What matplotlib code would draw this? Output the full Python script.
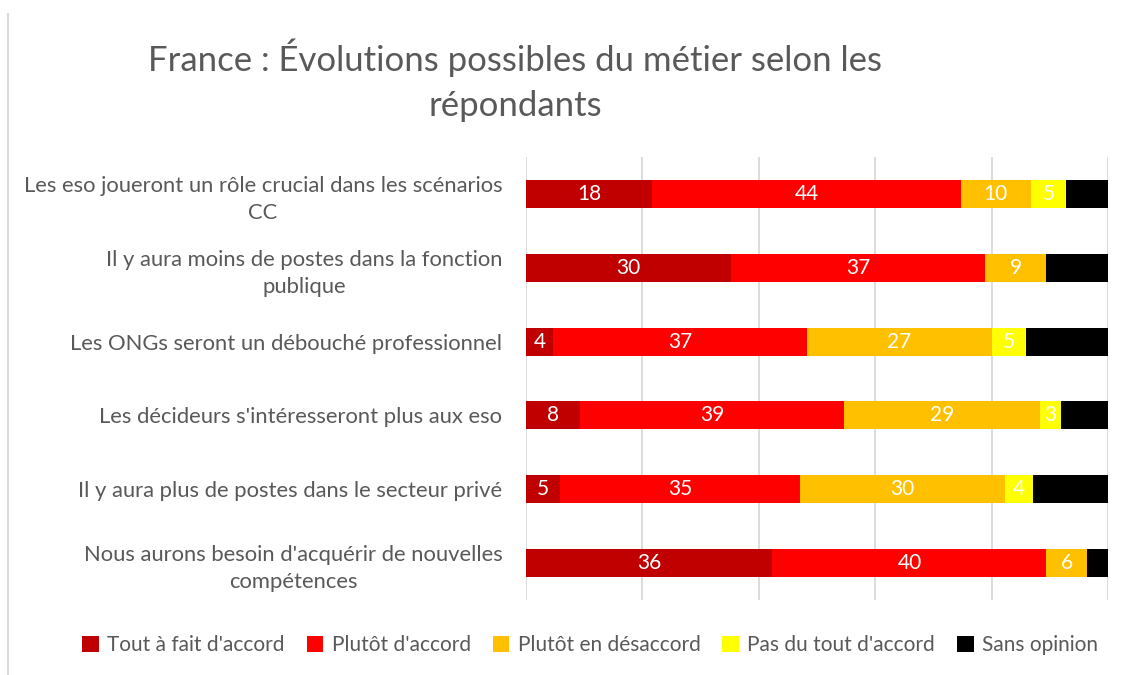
import numpy as np
import matplotlib.pyplot as plt
from matplotlib.lines import Line2D

plt.rcParams['font.family'] = ['Lato', 'DejaVu Sans']

categories = [
    "Les eso joueront un rôle crucial dans les scénarios\nCC",
    "Il y aura moins de postes dans la fonction\npublique",
    "Les ONGs seront un débouché professionnel",
    "Les décideurs s'intéresseront plus aux eso",
    "Il y aura plus de postes dans le secteur privé",
    "Nous aurons besoin d'acquérir de nouvelles\ncompétences",
]
series = ["Tout à fait d'accord", "Plutôt d'accord", "Plutôt en désaccord",
          "Pas du tout d'accord", "Sans opinion"]
tout_a_fait = [18, 30, 4, 8, 5, 36]
plutot_accord = [44, 37, 37, 39, 35, 40]
plutot_desaccord = [10, 9, 27, 29, 30, 6]
pas_du_tout = [5, 0, 5, 3, 4, 0]
sans_opinion = [6, 9, 12, 7, 11, 3]

colors = ["#c00000", "#ff0000", "#ffc000", "#ffff00", "#000000"]
text_col = "#595959"

counts = np.array([tout_a_fait, plutot_accord, plutot_desaccord,
                   pas_du_tout, sans_opinion], dtype=float)
shares = counts / counts.sum(axis=0) * 100

fig = plt.figure(figsize=(11.46, 6.75), dpi=100)
ax = fig.add_axes([526 / 1146, 1 - 600 / 675, 582 / 1146, 443 / 675])

y = np.arange(len(categories))
left = np.zeros(len(categories))
for i, name in enumerate(series):
    bars = ax.barh(y, shares[i], left=left, height=0.38, color=colors[i],
                   label=name, zorder=3)
    for j, b in enumerate(bars):
        if counts[i, j] > 0 and i < 4:
            ax.text(left[j] + shares[i, j] / 2, y[j], f"{int(counts[i, j])}",
                    ha='center', va='center', color='white', fontsize=15,
                    zorder=4)
    left += shares[i]

ax.set_xlim(0, 100)
ax.set_ylim(len(categories) - 0.5, -0.5)
ax.set_xticks(np.arange(0, 101, 20))
ax.xaxis.grid(True, color='#d9d9d9', linewidth=1.3, zorder=0)
ax.tick_params(axis='x', length=0, labelbottom=False)
ax.tick_params(axis='y', length=0, pad=17)
ax.set_yticks(y)
ax.set_yticklabels(categories, fontsize=15.8, color=text_col,
                   multialignment='center', linespacing=1.45)
for s in ax.spines.values():
    s.set_visible(False)

fig.text(515 / 1146, 1 - 80 / 675,
         "France : Évolutions possibles du métier selon les\nrépondants",
         ha='center', va='center', fontsize=25, color=text_col,
         linespacing=1.5)

fig.legend(loc='center', bbox_to_anchor=(590 / 1146, 1 - 645 / 675), ncol=5,
           frameon=False, fontsize=15, labelcolor=text_col,
           handlelength=0.8, handleheight=0.8, handletextpad=0.4,
           columnspacing=1.05)

# cadre gauche du graphique
fig.add_artist(Line2D([8 / 1146, 8 / 1146], [0, 1 - 14 / 675],
                      color='#d9d9d9', linewidth=1.5))

fig.savefig("out.png", dpi=100)
